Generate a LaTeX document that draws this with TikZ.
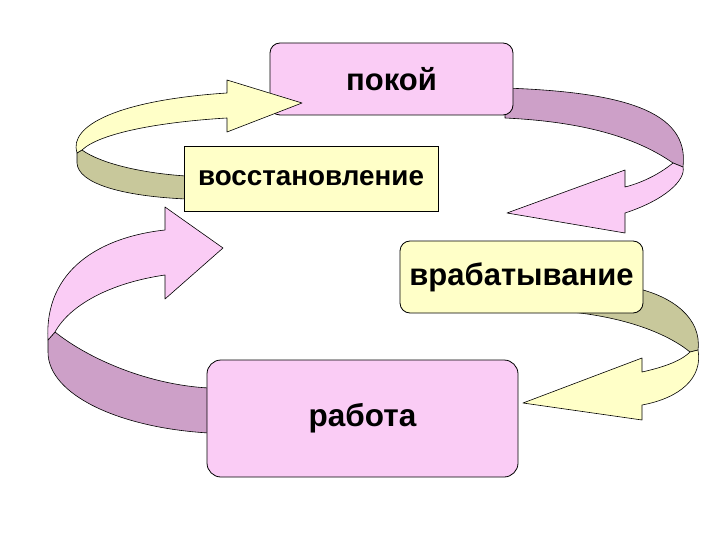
\documentclass[tikz,border=0pt]{standalone}
\usepackage{fontspec}
\setmainfont{Liberation Sans}
\usepackage{tikz}

\definecolor{boxpink}{RGB}{250,204,245}
\definecolor{boxyellow}{RGB}{255,255,200}
\definecolor{bandmauve}{RGB}{205,160,200}
\definecolor{bandkhaki}{RGB}{200,200,155}

\begin{document}
\begin{tikzpicture}[x=1pt,y=-1pt,
  stagebox/.style={draw=black,line width=0.8pt,inner sep=2pt},
  ribbon/.style={draw=black,line width=0.6pt,line join=round}]
  \useasboundingbox (0,0) rectangle (720,540);
  % Ribbon from pokoj down to vrabatyvanie (behind pokoj)
  \draw[ribbon,fill=bandmauve] (505,88) .. controls (620,92) and (690,110) .. (683,167)
    -- (673,163) .. controls (640,140) and (590,122) .. (505,118) -- cycle;
  \draw[ribbon,fill=boxpink] (673,163) -- (683,167) .. controls (686,180) and (665,200) .. (625,213)
    -- (625,233) -- (507,213) -- (625,170) -- (625,187)
    .. controls (645,182) and (662,172) .. (673,163) -- cycle;
  % Ribbon from rabota up to vosstanovlenie (behind rabota)
  \draw[ribbon,fill=bandmauve] (55,332) .. controls (90,360) and (150,385) .. (209,388)
    -- (209,433) .. controls (120,428) and (48,395) .. (48,352) -- (48,340) -- cycle;
  \draw[ribbon,fill=boxpink] (48,340) .. controls (44,270) and (100,237) .. (165,230)
    -- (165,207) -- (223,248) -- (165,299) -- (165,275)
    .. controls (110,283) and (70,305) .. (55,332) -- cycle;
  % Ribbon from vrabatyvanie down to rabota (behind vrabatyvanie)
  \draw[ribbon,fill=bandkhaki] (635,288) .. controls (672,296) and (702,318) .. (698,350)
    -- (690,352) .. controls (668,334) and (625,316) .. (560,311) -- cycle;
  \draw[ribbon,fill=boxyellow] (690,352) -- (698,350) .. controls (703,378) and (680,398) .. (642,405)
    -- (642,420) -- (523,403) -- (642,358) -- (642,372)
    .. controls (660,368) and (680,362) .. (690,352) -- cycle;
  % Stage: pokoj
  \node[stagebox,fill=boxpink,rounded corners=10pt,minimum width=243pt,minimum height=72pt,
    font=\bfseries\fontsize{31}{33}\selectfont] (pokoj) at (391.5,79) {покой};
  % Ribbon from vosstanovlenie up to pokoj (head over pokoj)
  \draw[ribbon,fill=bandkhaki] (82,150) .. controls (100,163) and (140,173) .. (186,176)
    -- (186,199) .. controls (120,196) and (78,183) .. (77,163) -- (77,153) -- cycle;
  \draw[ribbon,fill=boxyellow] (77,153) .. controls (68,125) and (120,100) .. (227,93)
    -- (227,80) -- (302,103) -- (227,132) -- (227,118)
    .. controls (160,122) and (100,133) .. (82,150) -- cycle;
  % Stages: vosstanovlenie, vrabatyvanie, rabota
  \node[stagebox,fill=boxyellow,minimum width=254pt,minimum height=65pt,
    font=\bfseries\fontsize{27.8}{30}\selectfont] (vosst) at (311,178.5) {восстановление};
  \node[stagebox,fill=boxyellow,rounded corners=10pt,minimum width=243pt,minimum height=72pt,
    font=\bfseries\fontsize{31}{33}\selectfont] (vrab) at (521.5,277) {врабатывание};
  \node[stagebox,fill=boxpink,rounded corners=14pt,minimum width=311pt,minimum height=117pt,
    font=\bfseries\fontsize{31.5}{33}\selectfont] (rabota) at (362.5,418.5) {работа};
\end{tikzpicture}
\end{document}
